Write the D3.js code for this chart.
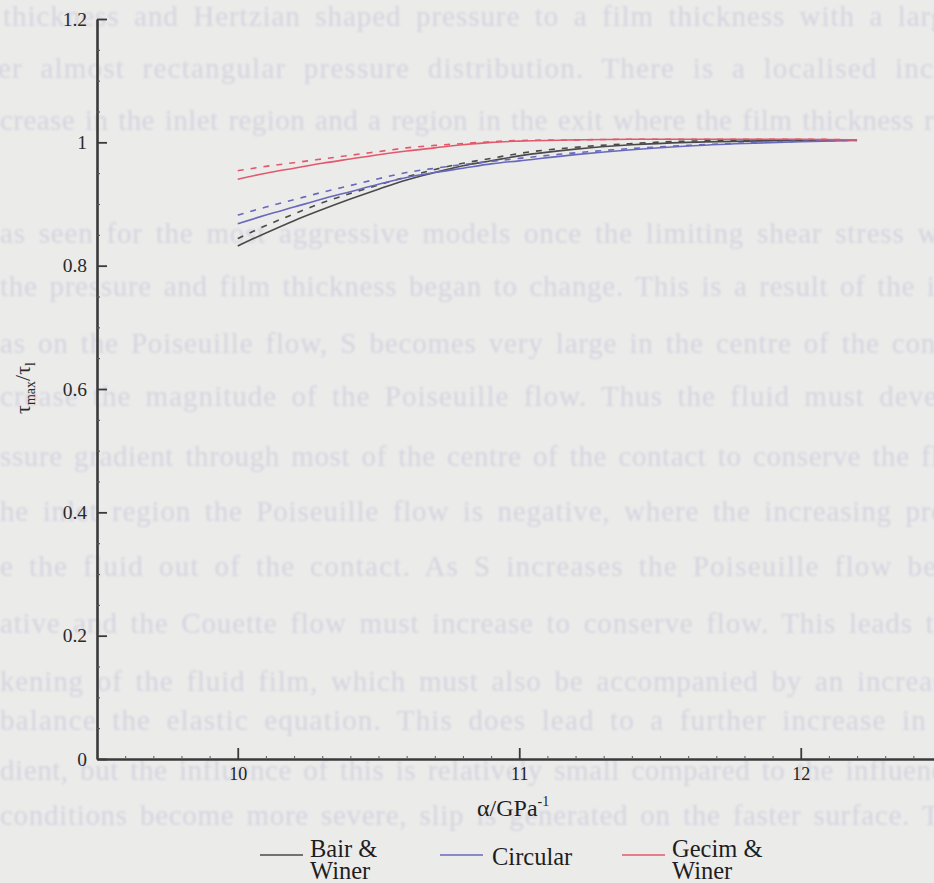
<!DOCTYPE html>
<html>
<head>
<meta charset="utf-8">
<script src="https://cdn.jsdelivr.net/npm/d3@7"></script>
<style>
  html, body { margin: 0; padding: 0; background: #ebebea; }
  svg { display: block; }
</style>
</head>
<body>
<svg id="chart" width="934" height="883"></svg>
<script>
// Pressure-viscosity coefficient (GPa^-1)
const alpha = [10, 10.1, 10.2, 10.3, 10.4, 10.5, 10.6, 10.7, 10.8, 10.9, 11.0, 11.2, 11.4, 11.6, 11.8, 12.0, 12.2];

// tau_max / tau_l for each limiting-shear model (solid and dashed variants)
const bairWinerSolid   = [0.832, 0.853, 0.873, 0.891, 0.908, 0.924, 0.939, 0.951, 0.962, 0.970, 0.978, 0.989, 0.996, 1.000, 1.002, 1.003, 1.004];
const bairWinerDashed  = [0.844, 0.865, 0.884, 0.902, 0.917, 0.931, 0.944, 0.956, 0.966, 0.974, 0.982, 0.992, 0.998, 1.002, 1.003, 1.004, 1.004];
const circularSolid    = [0.868, 0.882, 0.895, 0.908, 0.920, 0.932, 0.943, 0.951, 0.958, 0.965, 0.970, 0.980, 0.988, 0.994, 0.998, 1.001, 1.003];
const circularDashed   = [0.882, 0.895, 0.907, 0.919, 0.930, 0.941, 0.951, 0.958, 0.964, 0.969, 0.974, 0.983, 0.990, 0.995, 0.999, 1.002, 1.003];
const gecimWinerSolid  = [0.940, 0.950, 0.958, 0.966, 0.973, 0.980, 0.986, 0.991, 0.996, 1.000, 1.002, 1.004, 1.005, 1.005, 1.005, 1.005, 1.004];
const gecimWinerDashed = [0.954, 0.961, 0.967, 0.973, 0.979, 0.985, 0.991, 0.995, 0.998, 1.001, 1.003, 1.004, 1.005, 1.005, 1.005, 1.005, 1.004];

const yTicks = [0, 0.2, 0.4, 0.6, 0.8, 1, 1.2];
const yTickLabels = ["0", "0.2", "0.4", "0.6", "0.8", "1", "1.2"];
const xTicks = [10, 11, 12];
const xTickLabels = ["10", "11", "12"];
const legendLabels = [["Bair &", "Winer"], ["Circular"], ["Gecim &", "Winer"]];

// Text of the facing page showing faintly through the paper
const pageLines = [
  "thickness and Hertzian shaped pressure to a film thickness with a large",
  "er almost rectangular pressure distribution.  There is a localised increase",
  "crease in the inlet region and a region in the exit where the film thickness r",
  "as seen for the most aggressive models once the limiting shear stress was",
  "the pressure and film thickness began to change.  This is a result of the i",
  "as on the Poiseuille flow, S becomes very large in the centre of the cont",
  "crease the magnitude of the Poiseuille flow.  Thus the fluid must deve",
  "ssure gradient through most of the centre of the contact to conserve the fl",
  "he inlet region the Poiseuille flow is negative, where the increasing pre",
  "e the fluid out of the contact.  As S increases the Poiseuille flow be",
  "ative and the Couette flow must increase to conserve flow.  This leads t",
  "kening of the fluid film, which must also be accompanied by an increas",
  "balance the elastic equation.  This does lead to a further increase in",
  "dient, but the influence of this is relatively small compared to the influenc",
  "conditions become more severe, slip is generated on the faster surface.  T"
];

const serif = "'Liberation Serif', 'Times New Roman', serif";
const svg = d3.select("#chart");

// ---- show-through page text ----
const defs = svg.append("defs");
defs.append("filter").attr("id", "soft")
  .append("feGaussianBlur").attr("stdDeviation", 0.9);

const pageBaselines = [26, 78, 130, 243, 296, 353, 406, 466, 521, 576, 633, 691, 730, 780, 825];
const pageStarts    = [3, -2, 0, 0, 0, 0, 0, 0, 0, 0, 0, 0, 0, 0, 0];
const pageEnds      = [960, 1010, 934, 965, 940, 945, 945, 940, 945, 945, 940, 945, 935, 945, 945];

const page = svg.append("g").attr("filter", "url(#soft)");
pageLines.forEach((line, i) => {
  const t = page.append("text")
    .attr("x", pageStarts[i])
    .attr("y", pageBaselines[i])
    .attr("font-family", serif)
    .attr("font-size", 29)
    .attr("fill", "#d4d4df")
    .text(line);
  // justify: half of the slack goes between letters, half between words
  const natural = t.node().getComputedTextLength();
  const gaps = (line.match(/ /g) || []).length;
  const extra = (pageEnds[i] - pageStarts[i]) - natural;
  const ls = Math.max(0, extra * 0.5 / line.length);
  t.attr("letter-spacing", ls);
  const rest = extra - ls * line.length;
  if (gaps > 0) t.attr("word-spacing", rest / gaps);
});

// ---- scales ----
const x = d3.scaleLinear().domain([9.5, 12.5]).range([97, 941.5]);
const y = d3.scaleLinear().domain([0, 1.2]).range([759, 19]);

const axisColor = "#3a3a3a";

// ---- y axis ----
const yAxis = svg.append("g")
  .attr("transform", "translate(97,0)")
  .call(d3.axisLeft(y).tickValues(yTicks)
    .tickFormat((d, i) => yTickLabels[i])
    .tickSize(-10).tickSizeOuter(0).tickPadding(10));
yAxis.select(".domain").attr("stroke", axisColor).attr("stroke-width", 2.6);
yAxis.selectAll(".tick line").attr("stroke", axisColor).attr("stroke-width", 1.8);
yAxis.selectAll(".tick text").attr("font-family", serif).attr("font-size", 19.5).attr("fill", "#2a2a2a");

const yMinor = d3.range(1, 24).map(k => k * 0.05).filter(v => Math.abs(v / 0.2 - Math.round(v / 0.2)) > 1e-6);
svg.append("g")
  .attr("transform", "translate(97,0)")
  .call(d3.axisLeft(y).tickValues(yMinor).tickFormat("").tickSize(-3).tickSizeOuter(0))
  .call(g => g.select(".domain").remove())
  .selectAll(".tick line").attr("stroke", "#555").attr("stroke-width", 1.2);

// ---- x axis ----
const xAxis = svg.append("g")
  .attr("transform", "translate(0,759)")
  .call(d3.axisBottom(x).tickValues(xTicks)
    .tickFormat((d, i) => xTickLabels[i])
    .tickSize(-11).tickSizeOuter(0).tickPadding(8));
xAxis.select(".domain").attr("stroke", axisColor).attr("stroke-width", 2.6);
xAxis.selectAll(".tick line").attr("stroke", axisColor).attr("stroke-width", 1.8);
xAxis.selectAll(".tick text").attr("font-family", serif).attr("font-size", 18).attr("fill", "#222");

const xMinor = d3.range(96, 125).map(k => k / 10).filter(v => Math.abs(v - Math.round(v)) > 1e-6);
svg.append("g")
  .attr("transform", "translate(0,759)")
  .call(d3.axisBottom(x).tickValues(xMinor).tickFormat("").tickSize(-3).tickSizeOuter(0))
  .call(g => g.select(".domain").remove())
  .selectAll(".tick line").attr("stroke", "#666").attr("stroke-width", 1.1);

// ---- axis titles ----
const yTitle = svg.append("text")
  .attr("transform", "translate(30,388) rotate(-90)")
  .attr("text-anchor", "middle")
  .attr("font-family", serif).attr("font-size", 22).attr("fill", "#2a2a2a");
yTitle.append("tspan").text("τ");
yTitle.append("tspan").attr("dy", 5).attr("font-size", 14).text("max");
yTitle.append("tspan").attr("dy", -5).text("/τ");
yTitle.append("tspan").attr("dy", 5).attr("font-size", 14).text("l");

const xTitle = svg.append("text")
  .attr("x", 477).attr("y", 816)
  .attr("font-family", serif).attr("font-size", 24).attr("fill", "#1e1e1e");
xTitle.append("tspan").text("α/GPa");
xTitle.append("tspan").attr("dy", -10).attr("font-size", 14).text("-1");

// ---- curves ----
const colors = { bair: "#4a4a4a", circ: "#6868bc", gecim: "#e4586c" };
const series = [
  { values: bairWinerSolid,   color: colors.bair,  dashed: false },
  { values: bairWinerDashed,  color: colors.bair,  dashed: true },
  { values: circularSolid,    color: colors.circ,  dashed: false },
  { values: circularDashed,   color: colors.circ,  dashed: true },
  { values: gecimWinerSolid,  color: colors.gecim, dashed: false },
  { values: gecimWinerDashed, color: colors.gecim, dashed: true }
];

const line = d3.line()
  .x((d, i) => x(alpha[i]))
  .y(d => y(d))
  .curve(d3.curveMonotoneX);

svg.append("g").selectAll("path")
  .data(series)
  .join("path")
  .attr("d", s => line(s.values))
  .attr("fill", "none")
  .attr("stroke", s => s.color)
  .attr("stroke-width", 1.6)
  .attr("stroke-dasharray", s => s.dashed ? "6,7" : null);

// ---- legend ----
const legendX = [260, 440, 622];
const legendColors = [colors.bair, colors.circ, colors.gecim];
const legend = svg.append("g");
legendLabels.forEach((lab, i) => {
  const x0 = legendX[i];
  legend.append("line")
    .attr("x1", x0).attr("x2", x0 + 43)
    .attr("y1", 855).attr("y2", 855)
    .attr("stroke", legendColors[i]).attr("stroke-width", 1.6);
  const t = legend.append("text")
    .attr("font-family", serif).attr("font-size", 24.5).attr("fill", "#1e1e1e");
  if (lab.length === 1) {
    t.attr("x", x0 + 52).attr("y", 865).text(lab[0]);
  } else {
    t.append("tspan").attr("x", x0 + 50).attr("y", 857).text(lab[0]);
    t.append("tspan").attr("x", x0 + 50).attr("y", 879).text(lab[1]);
  }
});
</script>
</body>
</html>
